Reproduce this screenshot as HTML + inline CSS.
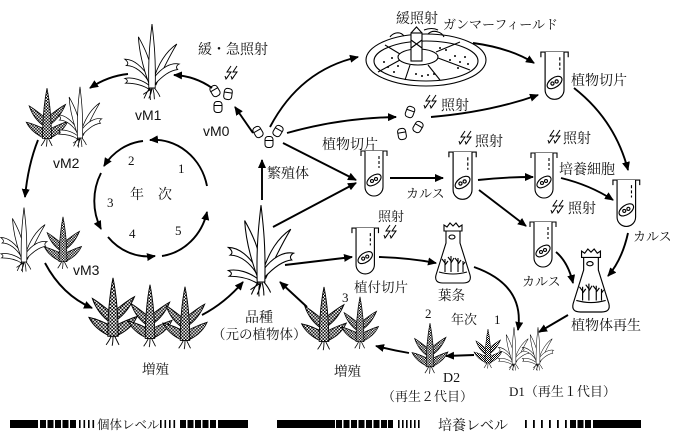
<!DOCTYPE html>
<html><head><meta charset="utf-8"><style>
html,body{margin:0;padding:0;background:#fff;}
svg{display:block;}
.j{font-family:"Liberation Serif","Noto Serif CJK SC",serif;fill:#111;}
.s{font-family:"Liberation Sans",sans-serif;fill:#111;}
.a{fill:none;stroke:#000;stroke-width:1.9;marker-end:url(#ah);}
</style></head><body>
<svg width="682" height="439" viewBox="0 0 682 439" xmlns="http://www.w3.org/2000/svg">
<defs>
<pattern id="chk" width="4" height="4" patternUnits="userSpaceOnUse"><rect width="4" height="4" fill="#fff"/><rect width="2" height="2" fill="#000"/><rect x="2" y="2" width="2" height="2" fill="#000"/></pattern>
<marker id="ah" markerWidth="9" markerHeight="8" refX="8" refY="4" orient="auto" markerUnits="userSpaceOnUse"><path d="M0,0 L9,4 L0,8 Z" fill="#000"/></marker>
<g id="W" fill="#fff" stroke="#000" stroke-width="1.1">
 <path d="M-3,-3 C-12,-10 -24,-14 -34,-12 C-30,-10 -30,-8 -33,-6 C-22,-6 -12,-4 -3,2 Z"/>
 <path d="M-2,-10 C-12,-28 -24,-36 -34,-36 C-30,-33 -29,-30 -32,-28 C-22,-28 -10,-20 -2,-4 Z"/>
 <path d="M-4,-6 C-12,-28 -16,-46 -17,-64 C-8,-48 -2,-34 1,-14 Z"/>
 <path d="M1,-8 C8,-32 18,-46 31,-55 C22,-40 14,-24 5,-4 Z"/>
 <path d="M2,-12 C12,-26 24,-32 34,-30 C30,-28 30,-25 32,-23 C22,-22 12,-14 3,-4 Z"/>
 <path d="M-4,0 C-5,-40 -2,-62 0,-80 C2,-62 5,-40 4,0 Z"/>
 <path fill="none" d="M-3,0 q-4,6 -7,13 M-1,0 q-2,8 -1,15 M1,0 q2,7 2,14 M3,0 q5,6 7,11 M-2,2 q-6,4 -9,6 M0,1 q-1,6 -4,12"/>
</g>
<g id="C" fill="url(#chk)" stroke="#000" stroke-width="1.1">
 <path d="M-3,-2 C-12,-6 -22,-12 -28,-24 C-18,-22 -10,-18 -2,-14 Z"/>
 <path d="M3,-2 C12,-6 22,-12 28,-25 C18,-22 10,-18 2,-14 Z"/>
 <path d="M-3,-18 C-12,-24 -20,-34 -24,-46 C-14,-40 -8,-34 -2,-30 Z"/>
 <path d="M3,-20 C12,-26 20,-36 25,-48 C14,-42 8,-36 2,-32 Z"/>
 <path d="M-6,-2 C-6,-30 -4,-50 0,-70 C4,-50 6,-30 6,-2 Z"/>
 <path fill="none" d="M-2,-2 q-3,6 -6,10 M0,-2 q0,7 -1,11 M2,-2 q3,6 5,10"/>
</g>
<g id="T" fill="none" stroke="#000" stroke-width="1.1">
 <path d="M-2,6 L-2,1 L24,1 L24,6"/>
 <path d="M2,1 L2,37 A9,9 0 0 0 20,37 L20,1" fill="#fff"/>
 <ellipse cx="11" cy="30" rx="8" ry="4.5" transform="rotate(-35 11 30)"/>
 <circle cx="9" cy="31" r="1.5"/><circle cx="13" cy="29" r="1.5"/>
 <path d="M16,6 v3 M16,11 v3 M16,16 v2"/>
</g>
<g id="F" fill="#fff" stroke="#000" stroke-width="1.1">
 <path d="M-7,20 L-7,8 L7,8 L7,20 L17,52 Q19,60 10,60 L-10,60 Q-19,60 -17,52 Z"/>
 <path d="M-9,8 L-9,2 L-6,4 L-3,0 L0,3 L3,0 L6,4 L9,2 L9,8 Z"/>
 <path fill="none" d="M-14,49 Q0,53 14,49"/>
 <path fill="none" d="M-8,49 V36 M-8,40 l-3,-4 M-8,42 l3,-4 M-2,49 V33 M-2,38 l-3,-4 M-2,40 l3,-5 M5,49 V35 M5,39 l-3,-4 M5,41 l3,-4 M10,49 V38 M10,42 l2,-3"/>
 <ellipse cx="-1" cy="14" rx="3" ry="2"/>
</g>
<g id="S" fill="#fff" stroke="#000" stroke-width="1"><rect x="-4" y="-5.5" width="8" height="11" rx="3"/><path d="M-4,-1.5 H4"/></g>
<g id="L" fill="none" stroke="#000" stroke-width="1"><path d="M6,0 L2,6 L6,6 L1,13"/><path d="M0,10 L1,13 L3,10.5" /><path d="M12,0 L8,6 L12,6 L7,13"/><path d="M6,10 L7,13 L9,10.5"/></g>
</defs>

<!-- cycle -->
<path class="a" d="M207,186 A54,58 0 0 0 150,140"/>
<path class="a" d="M143,141 A54,58 0 0 0 104,166"/>
<path class="a" d="M101,173 A54,58 0 0 0 101,229"/>
<path class="a" d="M108,237 A54,58 0 0 0 155,256"/>
<path class="a" d="M162,256 A54,58 0 0 0 207,212"/>
<text class="j" x="178" y="173" font-size="13">1</text>
<text class="j" x="128" y="165" font-size="13">2</text>
<text class="j" x="107" y="207" font-size="13">3</text>
<text class="j" x="129" y="238" font-size="13">4</text>
<text class="j" x="175" y="235" font-size="13">5</text>
<text class="j" x="130" y="199" font-size="14">年</text>
<text class="j" x="158" y="199" font-size="14">次</text>

<!-- plants -->
<use href="#W" transform="translate(152,88) scale(0.8)"/>
<use href="#C" transform="translate(47,140) scale(0.74)"/>
<use href="#W" transform="translate(80,138) scale(0.64)"/>
<use href="#W" transform="translate(24,262) scale(0.68)"/>
<use href="#C" transform="translate(63,263) scale(0.66)"/>
<use href="#C" transform="translate(113,338) scale(0.86)"/>
<use href="#C" transform="translate(150,340) scale(0.79)"/>
<use href="#C" transform="translate(185,342) scale(0.79)"/>
<use href="#W" transform="translate(261,282) scale(0.96)"/>
<use href="#C" transform="translate(324,343) scale(0.8)"/>
<use href="#C" transform="translate(360,343) scale(0.66)"/>
<use href="#C" transform="translate(430,368) scale(0.64)"/>
<use href="#C" transform="translate(488,364) scale(0.5)"/>
<use href="#W" transform="translate(514,364) scale(0.46)"/>
<use href="#W" transform="translate(538,364) scale(0.46)"/>

<!-- seeds & bolts -->
<use href="#S" transform="translate(215,91) rotate(-30)"/>
<use href="#S" transform="translate(228,94) rotate(8)"/>
<use href="#S" transform="translate(218,107)"/>
<use href="#S" transform="translate(258,132) rotate(-30)"/>
<use href="#S" transform="translate(269,142)"/>
<use href="#S" transform="translate(278,131) rotate(30)"/>
<use href="#S" transform="translate(410,112) rotate(20)"/>
<use href="#S" transform="translate(418,127) rotate(30)"/>
<use href="#S" transform="translate(402,134) rotate(-10)"/>
<use href="#L" transform="translate(225,66)"/>
<use href="#L" transform="translate(424,95)"/>
<use href="#L" transform="translate(459,131)"/>
<use href="#L" transform="translate(548,130)"/>
<use href="#L" transform="translate(551,200)"/>
<use href="#L" transform="translate(384,225)"/>

<!-- gamma field -->
<g fill="none" stroke="#000" stroke-width="1.1">
 <ellipse cx="426" cy="60" rx="60" ry="26" fill="#fff"/>
 <ellipse cx="426" cy="61" rx="52" ry="20"/>
 <ellipse cx="418" cy="57" rx="20" ry="8"/>
 <path d="M400,60 L378,72 M410,65 L405,80 M428,65 L440,80 M438,58 L470,70 M436,52 L460,42 M400,54 L385,45"/>
 <rect x="411" y="33" width="11" height="28" fill="#fff"/>
 <path d="M411,33 L416.5,27 L422,33 M411,40 L422,48 M422,40 L411,48"/>
 <path d="M404,36 q-3,-4 -8,-3 q-4,1 -6,4 M428,34 q4,-4 10,-2 q4,1 6,5 M424,30 q8,-3 14,0"/>
 <g fill="#000" stroke="none">
  <circle cx="384" cy="62" r="1"/><circle cx="388" cy="67" r="1"/><circle cx="392" cy="58" r="1"/><circle cx="394" cy="72" r="1"/><circle cx="398" cy="66" r="1"/>
  <circle cx="416" cy="74" r="1"/><circle cx="422" cy="76" r="1"/><circle cx="428" cy="75" r="1"/><circle cx="434" cy="74" r="1"/>
  <circle cx="450" cy="60" r="1"/><circle cx="455" cy="56" r="1"/><circle cx="460" cy="62" r="1"/><circle cx="465" cy="57" r="1"/><circle cx="458" cy="68" r="1"/><circle cx="468" cy="64" r="1"/>
  <circle cx="440" cy="48" r="1"/><circle cx="446" cy="50" r="1"/>
 </g>
</g>

<!-- tubes & flasks -->
<use href="#T" transform="translate(543,51) scale(1.05)"/>
<use href="#T" transform="translate(363,150)"/>
<use href="#T" transform="translate(451,151) scale(1.05)"/>
<use href="#T" transform="translate(533,152)"/>
<use href="#T" transform="translate(615,179) scale(1.03)"/>
<use href="#T" transform="translate(532,221)"/>
<use href="#T" transform="translate(354,227) scale(1.02)"/>
<use href="#F" transform="translate(453,223)"/>
<use href="#F" transform="translate(591,249) scale(1.05)"/>

<!-- arrows -->
<path class="a" d="M212,88 Q195,76 174,75"/>
<path class="a" d="M128,74 Q108,76 90,88"/>
<path class="a" d="M38,140 Q28,165 25,197"/>
<path class="a" d="M45,263 Q62,295 92,308"/>
<path class="a" d="M202,315 Q225,303 243,282"/>
<path class="a" d="M307,307 L280,282"/>
<path class="a" d="M262,200 L262,160"/>
<path class="a" d="M253,133 L235,107"/>
<path class="a" d="M270,127 Q300,70 358,57"/>
<path class="a" d="M287,133 Q340,118 396,117"/>
<path class="a" d="M283,143 L356,180"/>
<path class="a" d="M273,227 L356,183"/>
<path class="a" d="M285,265 L352,257"/>
<path class="a" d="M473,43 Q510,48 534,63"/>
<path class="a" d="M431,117 Q490,112 538,95"/>
<path class="a" d="M574,88 Q615,120 628,170"/>
<path class="a" d="M390,178 L443,178"/>
<path class="a" d="M478,180 Q505,177 533,177"/>
<path class="a" d="M561,178 Q590,185 613,200"/>
<path class="a" d="M479,190 L526,226"/>
<path class="a" d="M628,233 Q622,260 608,276"/>
<path class="a" d="M556,252 Q568,262 573,283"/>
<path class="a" d="M568,315 L539,332"/>
<path class="a" d="M379,257 Q410,258 436,263"/>
<path class="a" d="M474,267 Q525,285 518,330"/>
<path class="a" d="M474,355 L446,356"/>
<path class="a" d="M409,353 Q392,350 376,346"/>

<!-- labels -->
<text class="j" x="198" y="54" font-size="14">緩・急照射</text>
<text class="s" x="203" y="136" font-size="14">vM0</text>
<text class="s" x="135" y="120" font-size="14">vM1</text>
<text class="s" x="53" y="168" font-size="14">vM2</text>
<text class="s" x="73" y="275" font-size="14">vM3</text>
<text class="j" x="267" y="178" font-size="14">繁殖体</text>
<text class="j" x="245" y="322" font-size="14">品種</text>
<text class="j" x="212" y="339" font-size="13.5">（元の植物体）</text>
<text class="j" x="142" y="374" font-size="13.5">増殖</text>
<text class="j" x="334" y="376" font-size="13.5">増殖</text>
<text class="j" x="396" y="23" font-size="14">緩照射</text>
<text class="j" x="443" y="29" font-size="13">ガンマーフィールド</text>
<text class="j" x="571" y="85" font-size="14">植物切片</text>
<text class="j" x="441" y="110" font-size="14">照射</text>
<text class="j" x="322" y="149" font-size="14">植物切片</text>
<text class="j" x="475" y="146" font-size="14">照射</text>
<text class="j" x="563" y="143" font-size="14">照射</text>
<text class="j" x="559" y="174" font-size="14">培養細胞</text>
<text class="j" x="406" y="198" font-size="13">カルス</text>
<text class="j" x="568" y="213" font-size="14">照射</text>
<text class="j" x="378" y="221" font-size="13">照射</text>
<text class="j" x="633" y="241" font-size="13">カルス</text>
<text class="j" x="522" y="286" font-size="13">カルス</text>
<text class="j" x="354" y="292" font-size="13.5">植付切片</text>
<text class="j" x="438" y="300" font-size="13.5">葉条</text>
<text class="j" x="571" y="330" font-size="14">植物体再生</text>
<text class="j" x="451" y="324" font-size="13">年次</text>
<text class="j" x="494" y="324" font-size="13">1</text>
<text class="j" x="425" y="318" font-size="13">2</text>
<text class="j" x="342" y="302" font-size="13">3</text>
<text class="j" x="443" y="382" font-size="14">D2</text>
<text class="j" x="382" y="401" font-size="13">（再生２代目）</text>
<text class="j" x="509" y="396" font-size="13">D1（再生１代目）</text>

<!-- level bars -->
<g fill="#000">
 <rect x="10" y="420" width="28" height="8"/>
 <rect x="40" y="420" width="6" height="8"/><rect x="47.5" y="420" width="6" height="8"/><rect x="55" y="420" width="6" height="8"/><rect x="62.5" y="420" width="6" height="8"/><rect x="70" y="420" width="6" height="8"/>
 <rect x="79" y="420" width="1.6" height="8"/><rect x="83.5" y="420" width="1.6" height="8"/><rect x="88" y="420" width="1.6" height="8"/><rect x="92.5" y="420" width="1.6" height="8"/>
 <rect x="160" y="420" width="1.6" height="8"/><rect x="164.5" y="420" width="1.6" height="8"/><rect x="169" y="420" width="1.6" height="8"/><rect x="173.5" y="420" width="1.6" height="8"/>
 <rect x="180" y="420" width="6" height="8"/><rect x="187.5" y="420" width="6" height="8"/><rect x="195" y="420" width="6" height="8"/><rect x="202.5" y="420" width="6" height="8"/><rect x="210" y="420" width="6" height="8"/>
 <rect x="218" y="420" width="30" height="8"/>
 <rect x="277" y="420" width="58" height="8"/>
 <rect x="336" y="420" width="6" height="8"/><rect x="343.5" y="420" width="6" height="8"/><rect x="351" y="420" width="6" height="8"/><rect x="358.5" y="420" width="6" height="8"/><rect x="366" y="420" width="6" height="8"/><rect x="373.5" y="420" width="6" height="8"/><rect x="381" y="420" width="6" height="8"/><rect x="388" y="420" width="5" height="8"/>
 <rect x="398" y="420" width="1.6" height="8"/><rect x="402" y="420" width="1.6" height="8"/><rect x="406" y="420" width="1.6" height="8"/><rect x="410" y="420" width="1.6" height="8"/><rect x="414" y="420" width="1.6" height="8"/><rect x="418" y="420" width="1.6" height="8"/>
 <rect x="525" y="420" width="1.8" height="8"/><rect x="533" y="420" width="1.8" height="8"/><rect x="541" y="420" width="1.8" height="8"/><rect x="549" y="420" width="1.8" height="8"/><rect x="557" y="420" width="1.8" height="8"/><rect x="565" y="420" width="1.8" height="8"/>
 <rect x="570" y="420" width="6" height="8"/><rect x="577.5" y="420" width="6" height="8"/><rect x="585" y="420" width="6" height="8"/>
 <rect x="593" y="420" width="48" height="8"/>
</g>
<text class="j" x="97" y="429" font-size="12.5">個体レベル</text>
<text class="j" x="438" y="430" font-size="14">培養レベル</text>
</svg>
</body></html>
